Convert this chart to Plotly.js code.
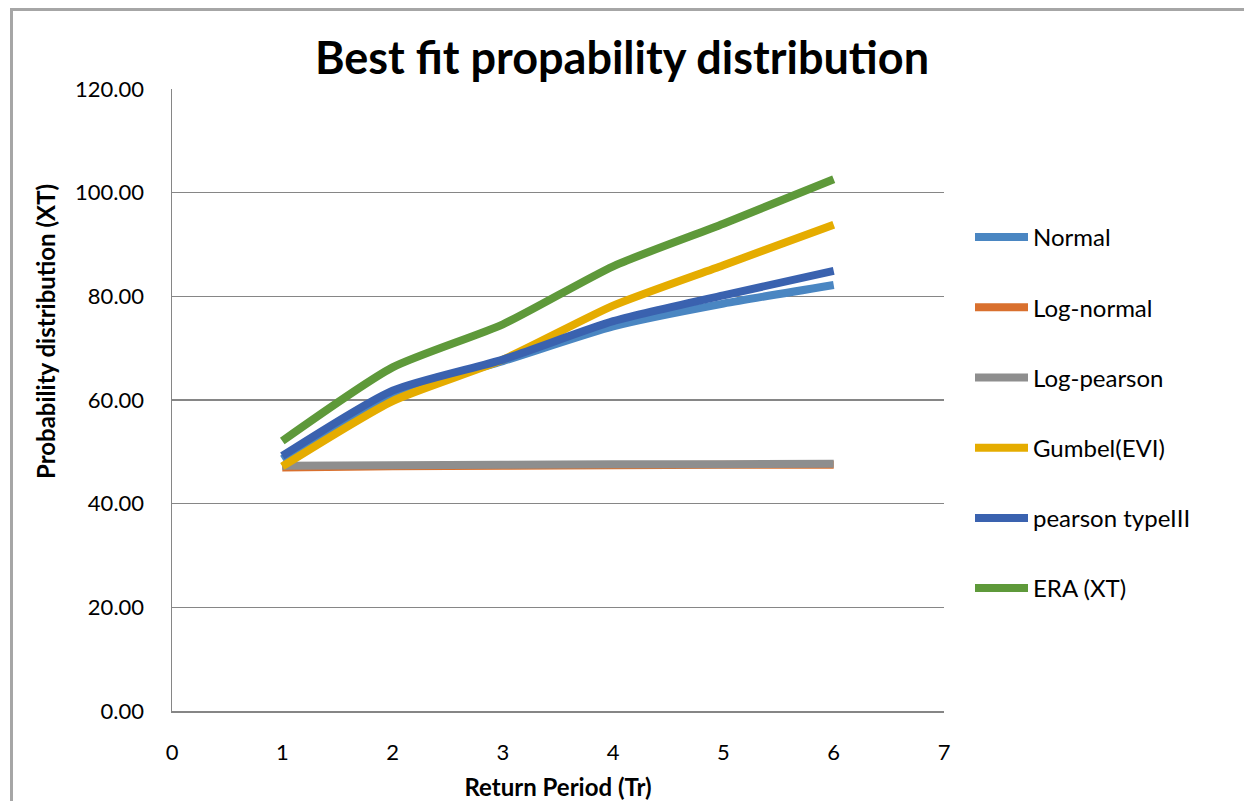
<!DOCTYPE html>
<html>
<head>
<meta charset="utf-8">
<script src="https://cdn.plot.ly/plotly-3.0.1.min.js"></script>
<style>html,body{margin:0;padding:0;background:#fff;}#chart{width:1244px;height:801px;}</style>
</head>
<body>
<div id="chart"></div>
<script>
const returnPeriod = [1, 2, 3, 4, 5, 6];
const normal      = [48.6, 61.2, 67.5, 74.2, 78.6, 82.2];
const logNormal   = [47.0, 47.2, 47.3, 47.4, 47.5, 47.5];
const logPearson  = [47.3, 47.4, 47.5, 47.6, 47.6, 47.7];
const gumbel      = [47.2, 59.8, 67.8, 78.2, 86.0, 93.8];
const pearson3    = [49.2, 61.8, 67.8, 75.2, 80.2, 84.9];
const era         = [52.1, 66.3, 74.6, 85.8, 94.0, 102.6];

const seriesNames  = ["Normal", "Log-normal", "Log-pearson", "Gumbel(EVI)", "pearson typeIII", "ERA (XT)"];
const seriesValues = [normal, logNormal, logPearson, gumbel, pearson3, era];
const seriesColors = ["#4A86C2", "#D9702E", "#8E8E8E", "#E5AC00", "#3A62AF", "#5E993A"];

const yTicks = [0, 20, 40, 60, 80, 100, 120];
const yTickText = yTicks.map(v => v.toFixed(2));
const xTicks = [0, 1, 2, 3, 4, 5, 6, 7];

const FONT = "Lato, 'Open Sans', sans-serif";

const traces = seriesNames.map((name, i) => ({
  type: "scatter",
  mode: "lines",
  name: name,
  x: returnPeriod,
  y: seriesValues[i],
  legendgroup: "g" + i,
  line: {color: seriesColors[i], width: 8, shape: "spline", smoothing: 0.6}
}));

const layout = {
  width: 1244,
  height: 801,
  paper_bgcolor: "#ffffff",
  plot_bgcolor: "#ffffff",
  margin: {l: 172, r: 300, t: 89, b: 90},
  font: {family: FONT, color: "#000000", size: 22},
  title: {
    text: "<b>Best fit propability distribution</b>",
    font: {family: FONT, size: 45, color: "#000000"},
    x: 0.5, xref: "container", xanchor: "center",
    y: 1 - 58/801, yref: "container", yanchor: "middle"
  },
  xaxis: {
    range: [0, 7],
    tickvals: xTicks,
    ticktext: xTicks.map(String),
    showgrid: false,
    zeroline: false,
    showline: true,
    linecolor: "#868686",
    linewidth: 1.5,
    ticks: "",
    ticklabelstandoff: 21,
    tickfont: {family: FONT, size: 22, color: "#000000"},
    title: {text: "<b>Return Period (Tr)</b>", font: {family: FONT, size: 24, color: "#000000"}, standoff: 15}
  },
  yaxis: {
    range: [0, 120],
    tickvals: yTicks,
    ticktext: yTickText,
    showgrid: true,
    gridcolor: "#868686",
    gridwidth: 1.5,
    zeroline: false,
    showline: true,
    linecolor: "#868686",
    linewidth: 1.5,
    ticks: "",
    ticklabelstandoff: 22,
    tickfont: {family: FONT, size: 22, color: "#000000"}
  },
  legend: {
    x: (970 - 172) / 772, xanchor: "left",
    y: (711 - 215) / 622, yanchor: "top",
    font: {family: FONT, size: 24, color: "#000000"},
    tracegroupgap: 36,
    itemwidth: 53,
    bgcolor: "rgba(0,0,0,0)"
  },
  annotations: [{
    text: "<b>Probability distribution (XT)</b>",
    textangle: -90,
    xref: "paper", yref: "paper",
    x: (45 - 172) / 772, y: (711 - 332) / 622,
    xanchor: "center", yanchor: "middle",
    showarrow: false,
    font: {family: FONT, size: 24, color: "#000000"}
  }],
  shapes: [{
    type: "rect", xref: "paper", yref: "paper",
    x0: (11.5 - 172) / 772, x1: 1.6,
    y0: -0.5, y1: (711 - 9.5) / 622,
    line: {color: "#A6A6A6", width: 3},
    fillcolor: "rgba(0,0,0,0)",
    layer: "below"
  }]
};

Plotly.newPlot("chart", traces, layout, {displayModeBar: false, staticPlot: true});
</script>
</body>
</html>
